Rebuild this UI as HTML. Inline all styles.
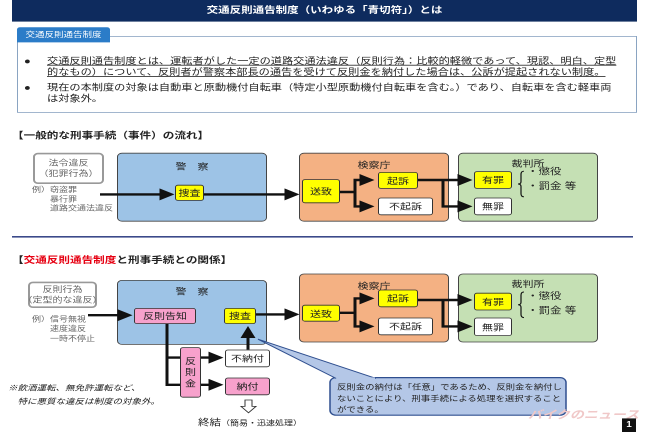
<!DOCTYPE html>
<html><head><meta charset="utf-8"><style>
*{margin:0;padding:0;box-sizing:border-box}
body{width:650px;height:433px;overflow:hidden;background:#fff;font-family:"Liberation Sans","Noto Sans CJK JP",sans-serif;color:#222}
#s{position:absolute;left:0;top:0;width:650px;height:541px;transform:scale(1,0.8);transform-origin:0 0}
.a{position:absolute;white-space:nowrap}
.b{position:absolute;display:flex;align-items:center;justify-content:center;border:1px solid #333;border-radius:3px;font-size:11px;white-space:nowrap}
.big{position:absolute;border:1.5px solid #444;border-radius:5px}
.y{background:#ffff00}.w{background:#fff}.p{background:#f7a1cc}
.t{position:absolute;font-size:11px;text-align:center;width:100%}
svg{position:absolute;left:0;top:0}
</style></head><body><div id="s">
<div class="a" style="left:12px;top:0;width:625px;height:27px;background:#0e2b5e;color:#fff;font-size:11.5px;font-weight:bold;text-align:center;line-height:27px">交通反則通告制度（いわゆる「青切符」）とは</div>
<div class="a" style="left:17px;top:45px;width:620px;height:96px;border:1px solid #8aa4c2"></div>
<div class="a" style="left:17px;top:34px;width:93px;height:19px;background:#2b7cc8;color:#fff;font-size:9.5px;line-height:19px;text-align:center;border-radius:3px 3px 0 0">交通反則通告制度</div>
<div class="a" style="left:24px;top:71px;font-size:11.2px;line-height:13.5px">●</div>
<div class="a" style="left:47px;top:71px;font-size:11.2px;line-height:13.5px;text-decoration:underline">交通反則通告制度とは、運転者がした一定の道路交通法違反（反則行為：比較的軽微であって、現認、明白、定型<br>的なもの）について、反則者が警察本部長の通告を受けて反則金を納付した場合は、公訴が提起されない制度。</div>
<div class="a" style="left:24px;top:104px;font-size:11.2px;line-height:13.5px">●</div>
<div class="a" style="left:47px;top:104px;font-size:11.2px;line-height:13.5px">現在の本制度の対象は自動車と原動機付自転車（特定小型原動機付自転車を含む。）であり、自転車を含む軽車両<br>は対象外。</div>

<div class="a" style="left:12px;top:161px;font-size:11.6px;font-weight:bold">【一般的な刑事手続（事件）の流れ】</div>
<div class="b" style="left:33px;top:191px;width:71px;height:39px;border:2px solid #999;border-radius:5px;color:#666;font-size:10px;line-height:13px;flex-direction:column">法令違反<span>（犯罪行為）</span></div>
<div class="a" style="left:32px;top:232px;font-size:9px;color:#666;line-height:11.5px">例）窃盗罪<br>　　暴行罪<br>　　道路交通法違反</div>
<div class="big" style="left:117px;top:191px;width:150px;height:86px;background:#9dc3e6"><div class="t" style="top:8px">警　察</div></div>
<div class="big" style="left:299px;top:191px;width:150px;height:86px;background:#f4b183"><div class="t" style="top:6px">検察庁</div></div>
<div class="big" style="left:458px;top:191px;width:140px;height:86px;background:#c5e0b4"><div class="t" style="top:4px">裁判所</div></div>
<div class="b y" style="left:175px;top:231px;width:29px;height:20px">捜査</div>
<div class="b y" style="left:302px;top:224px;width:38px;height:30px">送致</div>
<div class="b y" style="left:378px;top:215px;width:40px;height:21px">起訴</div>
<div class="b w" style="left:378px;top:247px;width:55px;height:22px">不起訴</div>
<div class="b y" style="left:474px;top:214px;width:38px;height:22px">有罪</div>
<div class="b w" style="left:474px;top:247px;width:38px;height:22px">無罪</div>
<div class="a" style="left:527px;top:207px;font-size:11.5px;line-height:17.5px">・懲役<br>・罰金 等</div>

<div class="a" style="left:12px;top:295px;width:621px;height:2px;background:#3b4a8a"></div>

<div class="a" style="left:12px;top:317px;font-size:11.6px;font-weight:bold">【<span style="color:#e60012">交通反則通告制度</span>と刑事手続との関係】</div>
<div class="b" style="left:28px;top:352px;width:69px;height:33px;border:2px solid #999;border-radius:5px;color:#666;font-size:10px;line-height:13px;flex-direction:column">反則行為<span>（定型的な違反）</span></div>
<div class="a" style="left:32px;top:393px;font-size:9px;color:#666;line-height:12px">例）信号無視<br>　　速度違反<br>　　一時不停止</div>
<div class="big" style="left:117px;top:350px;width:150px;height:81px;background:#9dc3e6"><div class="t" style="top:5px">警　察</div></div>
<div class="big" style="left:299px;top:342px;width:150px;height:86px;background:#f4b183"><div class="t" style="top:6px">検察庁</div></div>
<div class="big" style="left:458px;top:342px;width:140px;height:86px;background:#c5e0b4"><div class="t" style="top:4px">裁判所</div></div>
<div class="b p" style="left:134px;top:385px;width:62px;height:20px">反則告知</div>
<div class="b y" style="left:224px;top:385px;width:32px;height:20px">捜査</div>
<div class="b y" style="left:302px;top:381px;width:38px;height:21px">送致</div>
<div class="b y" style="left:378px;top:362px;width:40px;height:22px">起訴</div>
<div class="b w" style="left:378px;top:397px;width:55px;height:22px">不起訴</div>
<div class="b y" style="left:474px;top:366px;width:38px;height:22px">有罪</div>
<div class="b w" style="left:474px;top:397px;width:38px;height:23px">無罪</div>
<div class="a" style="left:527px;top:363px;font-size:11.5px;line-height:17.5px">・懲役<br>・罰金 等</div>
<div class="b p" style="left:180px;top:434px;width:21px;height:63px;font-size:11px;line-height:14px;white-space:normal;text-align:center;flex-direction:column">反<br>則<br>金</div>
<div class="b w" style="left:225px;top:437px;width:45px;height:22px">不納付</div>
<div class="b p" style="left:225px;top:472px;width:45px;height:22px">納付</div>
<div class="a" style="left:198px;top:520px;font-size:11.5px">終結<span style="font-size:9px">（簡易・迅速処理）</span></div>
<div class="a" style="left:8px;top:477px;font-size:9.5px;font-style:italic;line-height:17px">※飲酒運転、無免許運転など、<br>　特に悪質な違反は制度の対象外。</div>

<svg width="650" height="541">
<defs><marker id="m" markerWidth="5" markerHeight="5" refX="3.5" refY="2.5" orient="auto" markerUnits="strokeWidth"><path d="M0,0L5,2.5L0,5z" fill="#111"/></marker></defs>
<g stroke="#111" stroke-width="3" fill="none">
<line x1="100" y1="243" x2="170" y2="243" marker-end="url(#m)"/>
<line x1="204" y1="243" x2="295" y2="243" marker-end="url(#m)"/>
<path d="M340,240H355V225H370" marker-end="url(#m)"/>
<path d="M355,240V258H370" marker-end="url(#m)"/>
<line x1="418" y1="225" x2="468" y2="225" marker-end="url(#m)"/>
<path d="M443,225V258H468" marker-end="url(#m)"/>
<line x1="88" y1="394" x2="128" y2="394" marker-end="url(#m)"/>
<line x1="256" y1="393" x2="295" y2="393" marker-end="url(#m)"/>
<path d="M340,391H355V373H370" marker-end="url(#m)"/>
<path d="M355,391V408H370" marker-end="url(#m)"/>
<line x1="418" y1="375" x2="468" y2="375" marker-end="url(#m)"/>
<path d="M443,375V408H468" marker-end="url(#m)"/>
<path d="M167,405V481H180M167,447H180"/>
<line x1="201" y1="447" x2="219" y2="447" marker-end="url(#m)"/>
<line x1="201" y1="481" x2="219" y2="481" marker-end="url(#m)"/>
<line x1="248" y1="437" x2="248" y2="412" marker-end="url(#m)"/>
</g>
<path d="M524,214q-3,0 -3,4v9q0,3 -3,3q3,0 3,3v9q0,4 3,4" stroke="#111" stroke-width="1.2" fill="none"/>
<path d="M524,365q-3,0 -3,4v9q0,3 -3,3q3,0 3,3v9q0,4 3,4" stroke="#111" stroke-width="1.2" fill="none"/>
<path d="M245,500h7v8h4l-7.5,8l-7.5,-8h4z" fill="#fff" stroke="#333" stroke-width="1"/>
<rect x="330" y="472" width="236" height="47" rx="6" fill="#b4c7e7" stroke="#2f4f8f" stroke-width="1.5"/>
<path d="M336,473L258,424L376,473" fill="#b4c7e7" stroke="#2f4f8f" stroke-width="1.2"/>
<line x1="337" y1="473" x2="375" y2="473" stroke="#b4c7e7" stroke-width="2.5"/>
</svg>
<div class="a" style="left:337px;top:477px;font-size:9.4px;line-height:14px">反則金の納付は「任意」であるため、反則金を納付し<br>ないことにより、刑事手続による処理を選択すること<br>ができる。</div>
<div class="a" style="left:528px;top:508px;font-size:14px;font-weight:bold;font-style:italic;color:#f0c8c8">バイクのニュース</div>
<div class="a" style="left:622px;top:523px;width:14px;height:17px;background:#111;color:#fff;font-size:10px;font-weight:bold;text-align:center;line-height:17px">1</div>
</div></body></html>
